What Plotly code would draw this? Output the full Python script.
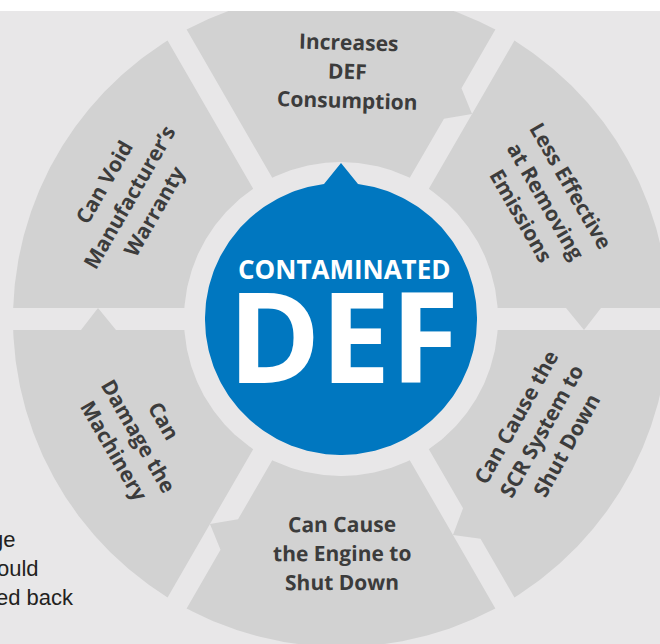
import numpy as np
import plotly.graph_objects as go

# ---------------- data ----------------
segment_lines = [
    ["Increases", "DEF", "Consumption"],
    ["Less Effective", "at Removing", "Emissions"],
    ["Can Cause the", "SCR System to", "Shut Down"],
    ["Can Cause", "the Engine to", "Shut Down"],
    ["Can", "Damage the", "Machinery"],
    ["Can Void", "Manufacturer’s", "Warranty"],
]
segment_weights = [1, 1, 1, 1, 1, 1]
leads_to_next = [True, True, True, True, True, False]
center_title = "CONTAMINATED"
center_word = "DEF"
side_text = ["ge", "ould", "ed back"]

# ---------------- style / layout ----------------
W, H = 660, 644
TOP_BAND = 11
CX, CY = 341, 319            # centre of the wheel in page pixels
BG = "#e8e7e8"
SEG = "#d2d2d2"
BLUE = "#0077c0"
TXT = "#3c3c3c"
R_BLUE, R_TIP, TIP_HALF = 136, 156, 17
R_IN, R_OUT, HALF_GAP = 157, 328, 11
TAB_IN, TAB_APEX, TAB_OUT = 225, 243, 260
START_ANGLE = 120
LABEL_R = [248, 237, 229, 234, 233, 245]
LABEL_DA = [-1.6, 0, 0.8, 0.2, 0, 0]
LINE_PITCH = 29
SEG_FONT = dict(family="Open Sans", size=21, color=TXT, weight=700)

fig = go.Figure()


def pt(d, p, a_deg):
    a = np.radians(a_deg)
    return d * np.cos(a) - p * np.sin(a), d * np.sin(a) + p * np.cos(a)


total = float(sum(segment_weights))
cum = np.concatenate([[0], np.cumsum(segment_weights)]) / total * 360.0

for i, w in enumerate(segment_weights):
    a_hi = START_ANGLE - cum[i]
    a_lo = START_ANGLE - cum[i + 1]
    do = np.degrees(np.arcsin(HALF_GAP / R_OUT))
    di = np.degrees(np.arcsin(HALF_GAP / R_IN))
    outer = np.radians(np.linspace(a_hi - do, a_lo + do, 160))
    xs = list(R_OUT * np.cos(outer))
    ys = list(R_OUT * np.sin(outer))
    if leads_to_next[i]:
        for d, p in [(TAB_OUT, HALF_GAP), (TAB_APEX, -HALF_GAP), (TAB_IN, HALF_GAP)]:
            x, y = pt(d, p, a_lo)
            xs.append(x)
            ys.append(y)
    inner = np.radians(np.linspace(a_lo + di, a_hi - di, 80))
    xs += list(R_IN * np.cos(inner))
    ys += list(R_IN * np.sin(inner))
    xs.append(xs[0])
    ys.append(ys[0])
    fig.add_trace(go.Scatter(x=xs, y=ys, mode="lines", fill="toself",
                             fillcolor=SEG, line=dict(width=0), hoverinfo="skip",
                             showlegend=False))

    # label lines
    mid = (a_hi + a_lo) / 2 + LABEL_DA[i]
    ang = 90 - mid
    while ang > 90:
        ang -= 180
    while ang <= -90:
        ang += 180
    mx, my = LABEL_R[i] * np.cos(np.radians(mid)), LABEL_R[i] * np.sin(np.radians(mid))
    t = np.radians(ang)
    down = (-np.sin(t), -np.cos(t))
    n = len(segment_lines[i])
    for k, line in enumerate(segment_lines[i]):
        off = (k - (n - 1) / 2) * LINE_PITCH
        fig.add_annotation(x=mx + off * down[0], y=my + off * down[1], xref="x", yref="y",
                           text=line, showarrow=False, textangle=ang,
                           xanchor="center", yanchor="middle", font=SEG_FONT)

# blue centre with tip
b = np.degrees(np.arcsin(TIP_HALF / R_BLUE))
circ = np.radians(np.linspace(90 + b, 90 - b + 360, 300))
bx = list(R_BLUE * np.cos(circ)) + [0]
by = list(R_BLUE * np.sin(circ)) + [R_TIP]
bx.append(bx[0])
by.append(by[0])
fig.add_trace(go.Scatter(x=bx, y=by, mode="lines", fill="toself", fillcolor=BLUE,
                         line=dict(width=0), hoverinfo="skip", showlegend=False))

fig.add_annotation(x=2.8, y=50, xref="x", yref="y", text=center_title, showarrow=False,
                   xanchor="center", yanchor="middle",
                   font=dict(family="Open Sans", size=26, color="white", weight=700))
fig.add_annotation(x=2.7, y=-15.5, xref="x", yref="y", text=center_word, showarrow=False,
                   xanchor="center", yanchor="middle",
                   font=dict(family="Open Sans", size=125, color="white", weight=700))

# cut-off body text on the left
side_right = [17, 41, 76]
side_mid = [539, 568, 597]
for s, xr, ym in zip(side_text, side_right, side_mid):
    fig.add_annotation(x=xr - CX, y=CY - ym, xref="x", yref="y", text=s, showarrow=False,
                       xanchor="right", yanchor="middle",
                       font=dict(family="Liberation Sans", size=22, color="#231f20"))

fig.update_layout(
    width=W, height=H,
    margin=dict(l=0, r=0, t=TOP_BAND, b=0, pad=0),
    paper_bgcolor="white", plot_bgcolor=BG,
    xaxis=dict(range=[-CX, W - CX], visible=False, fixedrange=True),
    yaxis=dict(range=[CY - H, CY - TOP_BAND], visible=False, fixedrange=True),
    hovermode=False, showlegend=False,
)

fig.write_html("out.html", config={"displayModeBar": False},
               post_script="document.body.style.margin='0';document.body.style.overflow='hidden';")
